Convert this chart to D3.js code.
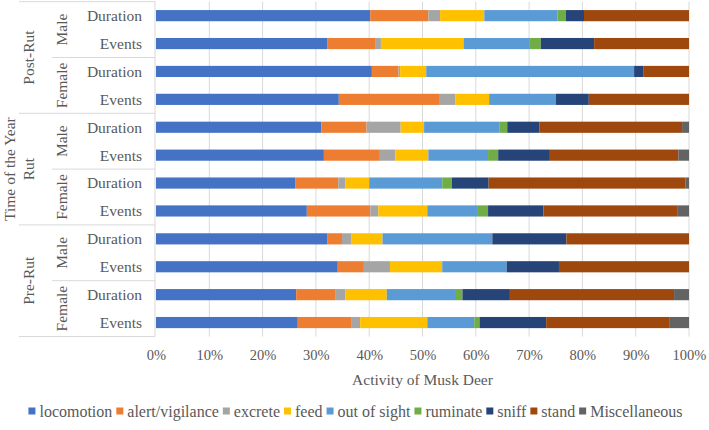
<!DOCTYPE html>
<html>
<head>
<meta charset="utf-8" />
<title>Activity of Musk Deer</title>
<script src="https://d3js.org/d3.v7.min.js"></script>
<style>
  body { margin: 0; background: #fff; }
  svg text { fill: #595959; }
</style>
</head>
<body>
<script>
// rows, top to bottom
const periods = ["Post-Rut", "Rut", "Pre-Rut"];
const sexes = ["Male", "Female"];
const measures = ["Duration", "Events"];

const activities = ["locomotion", "alert/vigilance", "excrete", "feed", "out of sight",
                    "ruminate", "sniff", "stand", "Miscellaneous"];
const colors = ["#4472C4", "#ED7D31", "#A5A5A5", "#FFC000", "#5B9BD5",
                "#70AD47", "#264478", "#9E480E", "#636363"];

// percent per row (same order as the rows)
const locomotion   = [40.2, 32.1, 40.5, 34.3, 31.0, 31.5, 26.1, 28.3, 32.1, 34.1, 26.3, 26.6];
const alert        = [10.9,  9.0,  5.0, 18.8,  8.5, 10.5,  8.1, 11.9,  2.8,  4.9,  7.3, 10.0];
const excrete      = [ 2.2,  1.1,  0.3,  3.1,  6.4,  2.9,  1.3,  1.5,  1.8,  4.9,  1.9,  1.7];
const feed         = [ 8.3, 15.5,  4.9,  6.3,  4.4,  6.2,  4.5,  9.2,  5.8,  9.8,  7.8, 12.6];
const outOfSight   = [13.7, 12.3, 39.0, 12.5, 14.2, 11.2, 13.7,  9.5, 20.6, 12.1, 12.8,  8.8];
const ruminate     = [ 1.6,  2.2,  0.0,  0.0,  1.4,  1.9,  1.8,  1.9,  0.0,  0.0,  1.4,  1.0];
const sniff        = [ 3.4, 10.0,  1.8,  6.2,  6.0,  9.7,  6.9, 10.4, 13.9,  9.8,  8.9, 12.5];
const stand        = [19.7, 17.8,  8.5, 18.8, 26.8, 24.1, 36.9, 25.2, 23.0, 24.4, 30.8, 23.2];
const misc         = [ 0.0,  0.0,  0.0,  0.0,  1.3,  2.0,  0.7,  2.1,  0.0,  0.0,  2.8,  3.6];

const series = [locomotion, alert, excrete, feed, outOfSight, ruminate, sniff, stand, misc];

const rows = [];
periods.forEach(p => sexes.forEach(s => measures.forEach(m => rows.push({ period: p, sex: s, measure: m }))));
rows.forEach((r, i) => {
  r.id = i;
  activities.forEach((a, j) => { r[a] = series[j][i]; });
});

const width = 709, height = 430;
const plot = { left: 156, right: 689, top: 1.7, bottom: 336.5 };
const font = "'Liberation Serif', Tinos, 'Times New Roman', 'DejaVu Serif', serif";

const svg = d3.select("body").append("svg")
  .attr("width", width)
  .attr("height", height)
  .attr("font-family", font);

const x = d3.scaleLinear().domain([0, 1]).range([plot.left, plot.right]);
const y = d3.scaleBand()
  .domain(rows.map(d => d.id))
  .range([plot.top, plot.bottom])
  .paddingInner(0.6)
  .paddingOuter(0.3);
const color = d3.scaleOrdinal().domain(activities).range(colors);

// gridlines
svg.append("g")
  .selectAll("line")
  .data(d3.range(1, 11).map(d => d / 10))
  .join("line")
  .attr("x1", d => x(d)).attr("x2", d => x(d))
  .attr("y1", plot.top).attr("y2", plot.bottom)
  .attr("stroke", "#d9d9d9")
  .attr("stroke-width", 1);

// bars
const stacked = d3.stack().keys(activities).offset(d3.stackOffsetExpand)(rows);
svg.append("g")
  .selectAll("g")
  .data(stacked)
  .join("g")
  .attr("fill", d => color(d.key))
  .selectAll("rect")
  .data(d => d)
  .join("rect")
  .attr("x", d => x(d[0]))
  .attr("width", d => Math.max(0, x(d[1]) - x(d[0])))
  .attr("y", d => y(d.data.id))
  .attr("height", y.bandwidth());

// x axis
const xAxis = d3.axisBottom(x)
  .tickValues(d3.range(0, 11).map(d => d / 10))
  .tickFormat(d3.format(".0%"))
  .tickSize(0)
  .tickPadding(13);
const gx = svg.append("g")
  .attr("transform", `translate(0,${plot.bottom})`)
  .call(xAxis)
  .attr("font-family", font)
  .attr("font-size", 14.5);
gx.select(".domain").remove();
gx.selectAll("text").attr("fill", "#595959");

svg.append("text")
  .attr("x", (plot.left + plot.right) / 2)
  .attr("y", 385)
  .attr("text-anchor", "middle")
  .attr("font-size", 15.5)
  .text("Activity of Musk Deer");

// multi level category axis
const axisColor = "#d9d9d9";
const ax = svg.append("g").attr("font-size", 15.5);
ax.append("line")
  .attr("x1", plot.left - 1).attr("x2", plot.left - 1)
  .attr("y1", plot.top).attr("y2", plot.bottom)
  .attr("stroke", axisColor);

const rowTop = i => plot.top + i * (plot.bottom - plot.top) / rows.length;

// separators: between sexes and between periods
d3.range(0, rows.length + 1, 2).forEach(i => {
  const isPeriod = i % 4 === 0;
  ax.append("line")
    .attr("x1", isPeriod ? 19 : 52).attr("x2", plot.left - 1)
    .attr("y1", rowTop(i)).attr("y2", rowTop(i))
    .attr("stroke", axisColor);
});

ax.selectAll(".measure")
  .data(rows)
  .join("text")
  .attr("class", "measure")
  .attr("x", 142)
  .attr("y", d => y(d.id) + y.bandwidth() / 2)
  .attr("dy", "0.35em")
  .attr("text-anchor", "end")
  .text(d => d.measure);

const sexGroups = rows.filter((d, i) => i % 2 === 0);
ax.selectAll(".sex")
  .data(sexGroups)
  .join("text")
  .attr("class", "sex")
  .attr("transform", d => `translate(62,${(rowTop(d.id) + rowTop(d.id + 2)) / 2}) rotate(-90)`)
  .attr("dy", "0.35em")
  .attr("text-anchor", "middle")
  .text(d => d.sex);

const periodGroups = rows.filter((d, i) => i % 4 === 0);
ax.selectAll(".period")
  .data(periodGroups)
  .join("text")
  .attr("class", "period")
  .attr("transform", d => `translate(29,${(rowTop(d.id) + rowTop(d.id + 4)) / 2}) rotate(-90)`)
  .attr("dy", "0.35em")
  .attr("text-anchor", "middle")
  .text(d => d.period);

svg.append("text")
  .attr("transform", `translate(10,${(plot.top + plot.bottom) / 2}) rotate(-90)`)
  .attr("dy", "0.35em")
  .attr("text-anchor", "middle")
  .attr("font-size", 15.5)
  .text("Time of the Year");

// legend
const legend = svg.append("g").attr("font-size", 16);
const legendY = 411;
let lx = 0;
activities.forEach((a, i) => {
  const item = legend.append("g").attr("transform", `translate(${lx},0)`);
  item.append("rect")
    .attr("x", 0).attr("y", legendY - 3.5)
    .attr("width", 7).attr("height", 7)
    .attr("fill", colors[i]);
  const t = item.append("text")
    .attr("x", 11)
    .attr("y", legendY)
    .attr("dy", "0.35em")
    .text(a);
  lx += 11 + t.node().getComputedTextLength() + 4;
});
legend.attr("transform", `translate(${(width - (lx - 4)) / 2 + 1},0)`);
</script>
</body>
</html>
